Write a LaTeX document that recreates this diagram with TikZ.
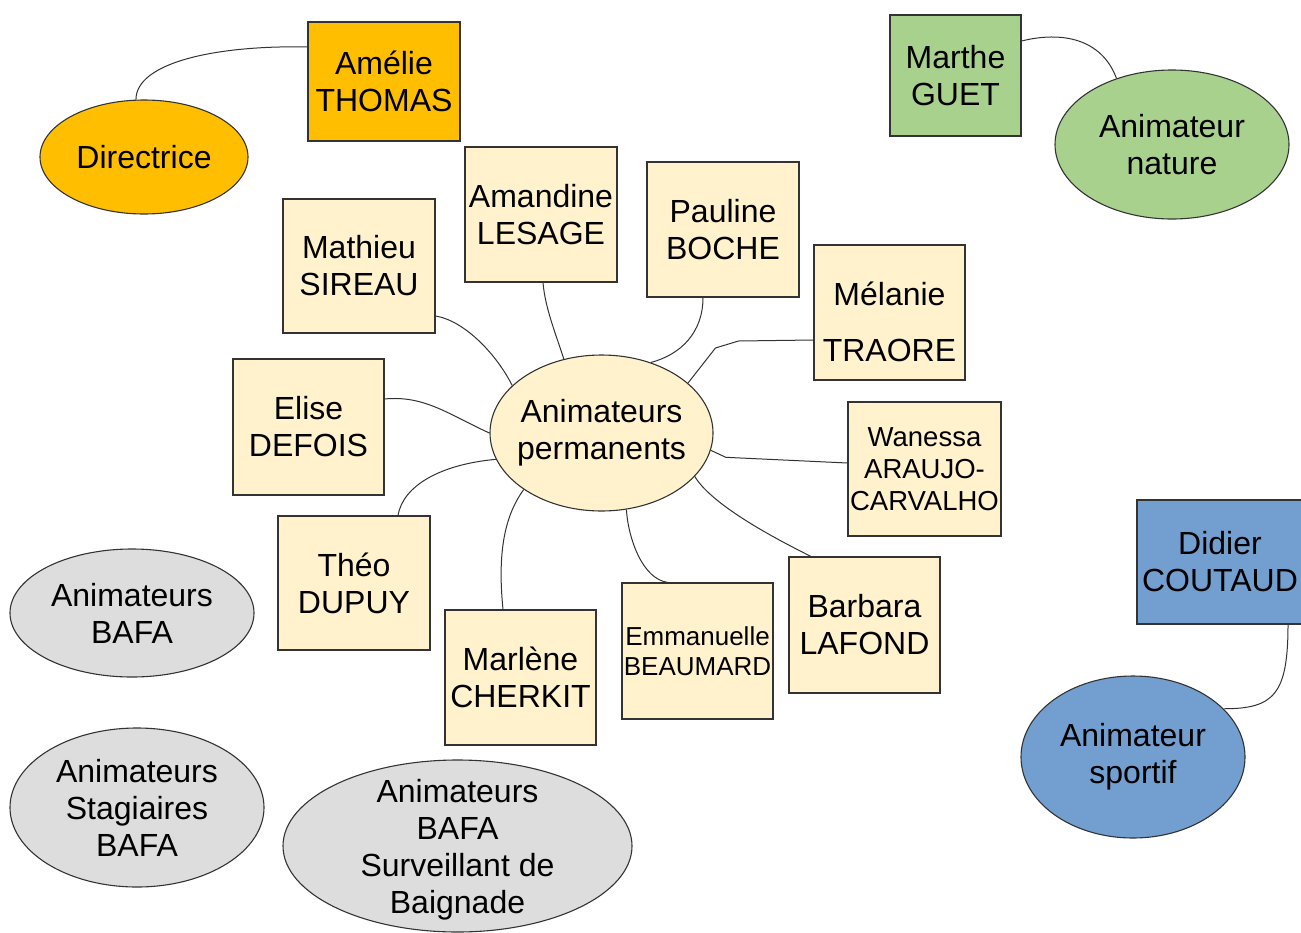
\documentclass[tikz,border=0pt]{standalone}
\usepackage{fontspec}
\setmainfont{Liberation Sans}
\usetikzlibrary{shapes.geometric}
\definecolor{orng}{HTML}{FFBF00}
\definecolor{paley}{HTML}{FFF2CC}
\definecolor{grn}{HTML}{A9D18E}
\definecolor{blu}{HTML}{729FCF}
\definecolor{gry}{HTML}{DDDDDD}
\definecolor{linec}{HTML}{333333}
\begin{document}
\begin{tikzpicture}[x=1pt,y=-1pt,
  txt/.style={font=\fontsize{32}{37}\selectfont, align=center, inner sep=0pt},
  pbox/.style={rectangle, draw=linec, line width=1.1pt, fill=paley, inner sep=0pt,
     minimum width=151pt, minimum height=135pt, txt},
  ell/.style={ellipse, draw=linec, line width=1.1pt, inner sep=0pt},
  conn/.style={draw=linec, line width=1pt}
]
\useasboundingbox (0,0) rectangle (1301,932);

% top-left
\node[pbox, fill=orng, minimum width=152pt, minimum height=119pt] (ame) at (384,81.5) {Amélie\\THOMAS};
\node[ell, fill=orng, minimum width=208pt, minimum height=114pt, label={[txt]center:Directrice}] (dir) at (144,157) {};
% top-right
\node[pbox, fill=grn, minimum width=131pt, minimum height=121pt] (mar) at (955.5,75.5) {Marthe\\GUET};
\node[ell, fill=grn, minimum width=234pt, minimum height=149pt, label={[txt]center:{Animateur\\nature}}] (nat) at (1172,144.5) {};
% right
\node[pbox, fill=blu, minimum width=166pt, minimum height=124pt] (did) at (1220,562) {Didier\\COUTAUD};
\node[ell, fill=blu, minimum width=224pt, minimum height=162pt, label={[txt]center:{Animateur\\sportif}}] (spo) at (1133,757) {};

% centre
\node[ell, fill=paley, minimum width=223pt, minimum height=156pt, label={[txt]center:{Animateurs\\permanents}}] (perm) at (601.5,433) {};

\node[pbox, minimum width=152pt] (les) at (541,214.5) {Amandine\\LESAGE};
\node[pbox, minimum width=152pt] (boc) at (723,229.5) {Pauline\\BOCHE};
\node[pbox, minimum width=152pt, minimum height=134pt] (sir) at (359,266) {Mathieu\\SIREAU};
\node[pbox, label={[txt, yshift=-9.5pt]center:{Mélanie\\[19pt]TRAORE}}] (tra) at (889.5,312.5) {};
\node[pbox, minimum height=136pt] (def) at (308.5,427) {Elise\\DEFOIS};
\node[pbox, minimum width=153pt, minimum height=134pt, font=\fontsize{27.5}{32}\selectfont] (ara) at (924.5,469) {Wanessa\\ARAUJO-\\CARVALHO};
\node[pbox, minimum width=152pt, minimum height=134pt] (dup) at (354,583) {Théo\\DUPUY};
\node[pbox] (che) at (520.5,677.5) {Marlène\\CHERKIT};
\node[pbox, minimum height=136pt, font=\fontsize{26}{30}\selectfont] (bea) at (697.5,651) {Emmanuelle\\BEAUMARD};
\node[pbox, minimum height=136pt] (laf) at (864.5,625) {Barbara\\LAFOND};

% grey ellipses
\node[ell, fill=gry, minimum width=244pt, minimum height=128pt, label={[txt]center:{Animateurs\\BAFA}}] (bafa) at (132,613) {};
\node[ell, fill=gry, minimum width=254pt, minimum height=159pt, label={[txt]center:{Animateurs\\Stagiaires\\BAFA}}] (stag) at (137,807.5) {};
\node[ell, fill=gry, minimum width=349pt, minimum height=172pt, label={[txt, yshift=-4pt]center:{Animateurs\\BAFA\\Surveillant de\\Baignade}}] (baig) at (457.5,846) {};

% connectors
\draw[conn] (dir.98) .. controls +(0,-38) and +(-88,-2) .. ([yshift=34.5pt]ame.west);
\draw[conn] ([yshift=34.5pt]mar.east) .. controls +(40,-10) and +(-15,-40) .. (nat.130);
\draw[conn] ([yshift=-50pt]sir.east) .. controls +(30,5) and +(-15,-30) .. (perm.152);
\draw[conn] ([xshift=2pt]les.south) .. controls +(2,25) and +(-8,-25) .. (perm.117);
\draw[conn] ([xshift=-20pt]boc.south) .. controls +(0,35) and +(30,-8) .. (perm.55);
\draw[conn] ([yshift=-27.5pt]tra.west) -- ++(-75,1) -- ++(-23,7) -- (perm.30);
\draw[conn] (perm.-9) -- ++(15,7) -- ([yshift=6pt]ara.west);
\draw[conn] (perm.-25) .. controls +(18,30) and +(-30,-15) .. ([xshift=-53.5pt]laf.north);
\draw[conn] (perm.-72) .. controls +(2,30) and +(-25,-3) .. ([xshift=-29.5pt]bea.north);
\draw[conn] ([xshift=-17.5pt]che.north) .. controls +(-6,-60) and +(-18,25) .. (perm.216);
\draw[conn] ([xshift=44pt]dup.north) .. controls +(5,-30) and +(-55,5) .. (perm.194);
\draw[conn] ([yshift=28pt]def.east) .. controls +(40,-4) and +(-40,-18) .. (perm.180);
\draw[conn] ([xshift=68pt]did.south) .. controls +(0,70) and +(50,0) .. (spo.28);
\end{tikzpicture}
\end{document}
